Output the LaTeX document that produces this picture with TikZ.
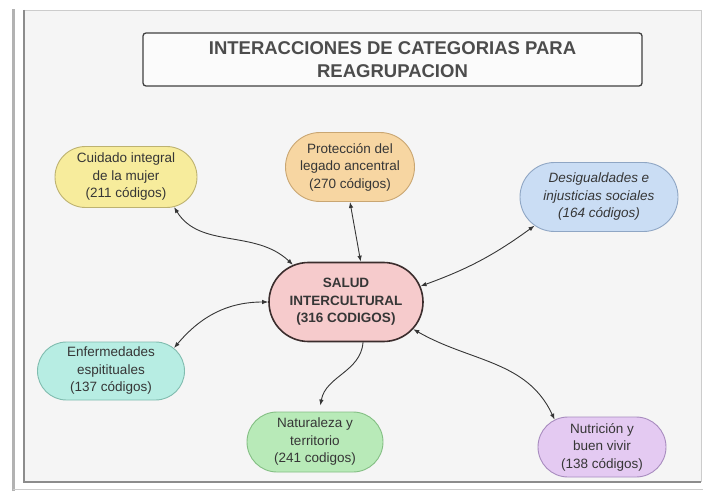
\documentclass[tikz,border=0pt]{standalone}
\usepackage{fontspec}
\setmainfont{Liberation Sans}
\usetikzlibrary{arrows.meta,shapes.misc,positioning}

\definecolor{panelgray}{HTML}{F5F5F5}
\definecolor{yellowfill}{HTML}{F7EC9C}
\definecolor{yellowline}{HTML}{BDB270}
\definecolor{orangefill}{HTML}{F7D6A2}
\definecolor{orangeline}{HTML}{C9A672}
\definecolor{bluefill}{HTML}{CADDF4}
\definecolor{blueline}{HTML}{8FA6C4}
\definecolor{pinkfill}{HTML}{F6CBCC}
\definecolor{pinkline}{HTML}{3B2D2D}
\definecolor{tealfill}{HTML}{B7EDE3}
\definecolor{tealline}{HTML}{80BCAF}
\definecolor{greenfill}{HTML}{B8EAB8}
\definecolor{greenline}{HTML}{84BF84}
\definecolor{purplefill}{HTML}{E4CAF2}
\definecolor{purpleline}{HTML}{A88CBF}
\definecolor{inkgray}{HTML}{363636}

\begin{document}
\begin{tikzpicture}[x=1pt,y=1pt,>={Latex[length=6pt,width=4.5pt]},
  cat/.style={rounded rectangle, draw, line width=0.9pt, align=center,
    font=\fontsize{13.5}{17.5}\selectfont, text=inkgray, inner sep=2pt},
  link/.style={<->, line width=0.9pt, inkgray}]

  \useasboundingbox (0,0) rectangle (705,499);

  % Frame = panel with shadow
  \fill[white] (0,0) rectangle (705,499);
  \draw[black!30, line width=3pt] (13,8) -- (13,490);
  \draw[black!20, line width=1pt] (13,10) -- (703,10);
  \fill[panelgray] (24,17) rectangle (701,489);
  \draw[black!20] (24,489) -- (701,489) -- (701,17);
  \draw[black!45, line width=2pt] (24,489) -- (24,17) -- (701,17);

  % Title box
  \node[draw=black!75, line width=1.3pt, rounded corners=3pt, fill=white!60!panelgray,
    minimum width=499pt, minimum height=53pt, align=center, text=black!70,
    font=\fontsize{18.5}{23}\selectfont\bfseries] (title) at (392.5,439.5)
    {INTERACCIONES DE CATEGORIAS PARA\\REAGRUPACION};

  % Centre = salud intercultural
  \node[cat, fill=pinkfill, draw=pinkline, line width=1.6pt, font=\fontsize{13.5}{17.5}\selectfont\bfseries,
    minimum width=158pt, minimum height=79pt] (salud) at (346,197)
    {SALUD\\INTERCULTURAL\\(316 CODIGOS)};

  % Categories round the centre
  \node[cat, fill=yellowfill, draw=yellowline, minimum width=146pt, minimum height=61pt]
    (cuidado) at (126,322) {Cuidado integral\\de la mujer\\(211 códigos)};
  \node[cat, fill=orangefill, draw=orangeline, minimum width=133pt, minimum height=69pt]
    (legado) at (350,332) {Protección del\\legado ancentral\\(270 códigos)};
  \node[cat, fill=bluefill, draw=blueline, minimum width=162pt, minimum height=69pt,
    font=\fontsize{13.5}{17.5}\selectfont\itshape]
    (desigual) at (599,302) {Desigualdades e\\injusticias sociales\\(164 códigos)};
  \node[cat, fill=tealfill, draw=tealline, minimum width=151pt, minimum height=58pt]
    (enfermedad) at (111,128) {Enfermedades\\espitituales\\(137 códigos)};
  \node[cat, fill=greenfill, draw=greenline, minimum width=140pt, minimum height=60pt]
    (naturaleza) at (315,57) {Naturaleza y\\territorio\\(241 codigos)};
  \node[cat, fill=purplefill, draw=purpleline, minimum width=132pt, minimum height=60pt]
    (nutricion) at (602,52) {Nutrición y\\buen vivir\\(138 códigos)};

  % Links
  \draw[link] (cuidado.-32) .. controls (200,250) and (255,270) .. (salud.145);
  \draw[link] (legado.south) to[out=-80,in=100] (salud.70);
  \draw[link] (salud.12) to[bend right=8] (desigual.-156);
  \draw[link] (enfermedad.20) to[out=50,in=180] (salud.west);
  \draw[->, line width=0.9pt, inkgray] (salud.-67) to[out=-95,in=80] ([yshift=6pt]naturaleza.80);
  \draw[link] (salud.-22) to[out=-30,in=115] (nutricion.150);

\end{tikzpicture}
\end{document}
